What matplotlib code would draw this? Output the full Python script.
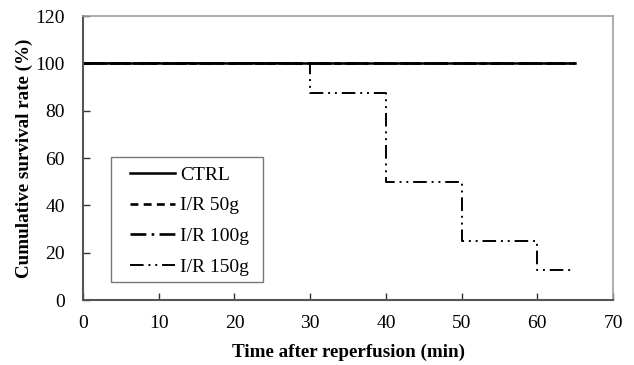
import matplotlib
matplotlib.use("Agg")
import matplotlib.pyplot as plt
from matplotlib.patches import Rectangle

plt.rcParams['font.family'] = ['Liberation Serif', 'DejaVu Serif']

# Data
t_ctrl = [0, 65]
s_ctrl = [100, 100]
t_50 = [0, 65]
s_50 = [100, 100]
t_100 = [0, 65]
s_100 = [100, 100]
t_150 = [0, 30, 40, 50, 60, 65]
s_150 = [100, 87.5, 50, 25, 12.5, 12.5]
labels = ["CTRL", "I/R 50g", "I/R 100g", "I/R 150g"]
xticks = [0, 10, 20, 30, 40, 50, 60, 70]
yticks = [0, 20, 40, 60, 80, 100, 120]

fig = plt.figure(figsize=(6.34, 3.65), dpi=100)
ax = fig.add_axes([0.131, 0.178, 0.836, 0.778])

ax.step(t_150, s_150, where='post', color='black', lw=1.4, ls=(0, (7, 2.5, 1, 2.5, 1, 2.5)), label=labels[3])
ax.step(t_100, s_100, where='post', color='black', lw=1.9, ls=(0, (6, 2, 1, 2)), label=labels[2])
ax.step(t_50, s_50, where='post', color='black', lw=1.9, ls=(0, (3, 2)), label=labels[1])
ax.step(t_ctrl, s_ctrl, where='post', color='black', lw=1.8, ls='-', label=labels[0])

ax.set_xlim(0, 70)
ax.set_ylim(0, 120)
ax.set_xticks(xticks)
ax.set_yticks(yticks)
ax.tick_params(direction='in', length=5, width=1, labelsize=14, colors='#333333', labelcolor='black')
ax.tick_params(axis='y', pad=13)
ax.tick_params(axis='x', pad=11)

for s in ['left', 'bottom']:
    ax.spines[s].set_color('#555555')
    ax.spines[s].set_linewidth(1.5)
for s in ['top', 'right']:
    ax.spines[s].set_color('#a0a0a0')
    ax.spines[s].set_linewidth(1.2)

ax.set_xlabel("Time after reperfusion (min)", fontsize=13.7, fontweight='bold', labelpad=8)
ax.set_ylabel("Cumulative survival rate (%)", fontsize=13.7, fontweight='bold', labelpad=2)

# legend box
ax.add_patch(Rectangle((0.0528, 0.0634), 0.2868, 0.4401, transform=ax.transAxes,
                       facecolor='white', edgecolor='#777777', lw=1.0, zorder=4))
handles, labs = ax.get_legend_handles_labels()
order = [labs.index(l) for l in labels]
leg = ax.legend([handles[i] for i in order], [labs[i] for i in order],
                loc='upper left', bbox_to_anchor=(0.0887, 0.472), borderaxespad=0,
                fontsize=14, handlelength=2.32, labelspacing=0.68, handletextpad=0.25,
                frameon=False, borderpad=0)
leg.set_zorder(5)

fig.savefig("out.png", dpi=100)
